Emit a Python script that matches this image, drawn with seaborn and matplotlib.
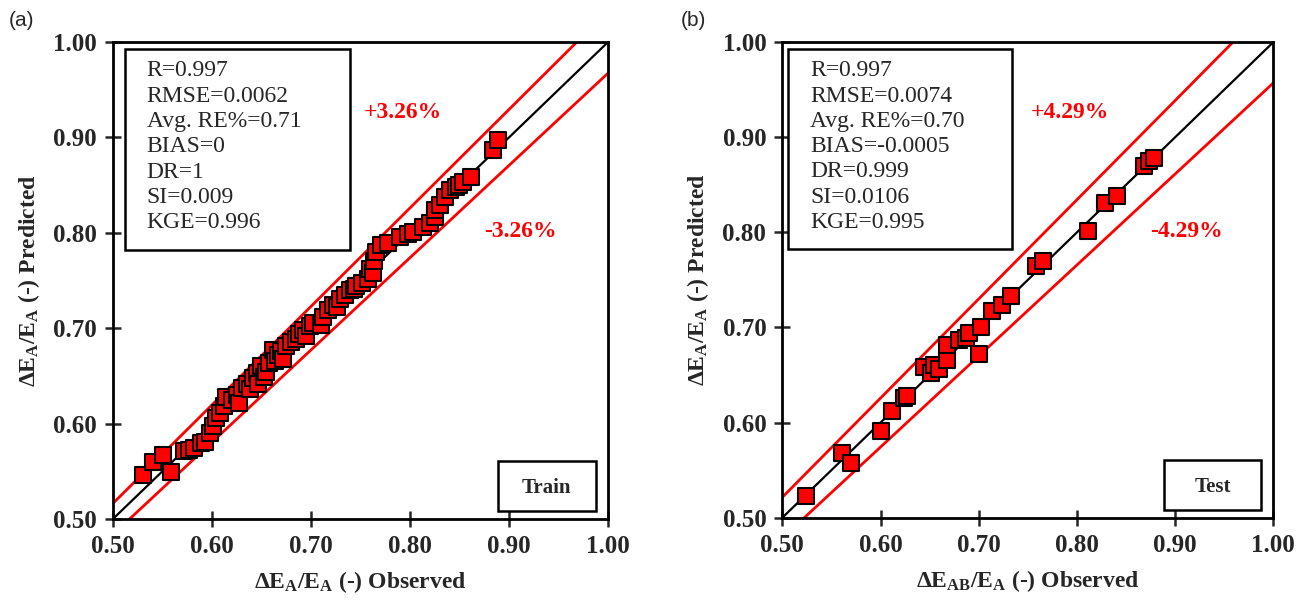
import numpy as np
import pandas as pd
import matplotlib
matplotlib.use("Agg")
import matplotlib.pyplot as plt
import seaborn as sns

# ---- data ----
train_obs = [0.530, 0.540, 0.551, 0.559, 0.572, 0.577, 0.582, 0.589, 0.593, 0.598,
             0.601, 0.604, 0.608, 0.612, 0.614, 0.620, 0.625, 0.627, 0.630, 0.635,
             0.638, 0.641, 0.645, 0.647, 0.650, 0.653, 0.655, 0.658, 0.662, 0.664,
             0.667, 0.670, 0.672, 0.675, 0.680, 0.685, 0.688, 0.692, 0.695, 0.699,
             0.702, 0.710, 0.712, 0.717, 0.722, 0.726, 0.729, 0.734, 0.739, 0.743,
             0.746, 0.752, 0.758, 0.760, 0.763, 0.764, 0.766, 0.771, 0.778, 0.790,
             0.798, 0.803, 0.813, 0.820, 0.825, 0.825, 0.830, 0.835, 0.840, 0.847,
             0.850, 0.854, 0.862, 0.884, 0.889]
train_pred = [0.546, 0.560, 0.567, 0.549, 0.571, 0.572, 0.574, 0.580, 0.581, 0.590,
              0.597, 0.606, 0.611, 0.618, 0.628, 0.625, 0.630, 0.622, 0.637, 0.642,
              0.636, 0.648, 0.653, 0.641, 0.660, 0.649, 0.654, 0.663, 0.677, 0.666,
              0.672, 0.676, 0.668, 0.681, 0.686, 0.689, 0.694, 0.698, 0.692, 0.702,
              0.705, 0.703, 0.712, 0.719, 0.724, 0.722, 0.731, 0.735, 0.740, 0.741,
              0.744, 0.747, 0.752, 0.762, 0.758, 0.771, 0.780, 0.787, 0.789, 0.796,
              0.799, 0.801, 0.806, 0.810, 0.817, 0.824, 0.829, 0.838, 0.845, 0.848,
              0.850, 0.853, 0.859, 0.887, 0.897]

test_obs = [0.524, 0.561, 0.570, 0.600, 0.612, 0.624, 0.627, 0.644, 0.651, 0.654,
            0.660, 0.668, 0.668, 0.680, 0.687, 0.690, 0.702, 0.700, 0.714, 0.724,
            0.733, 0.758, 0.765, 0.811, 0.829, 0.841, 0.868, 0.873, 0.878]
test_pred = [0.523, 0.568, 0.558, 0.591, 0.612, 0.626, 0.628, 0.658, 0.652, 0.661,
             0.656, 0.666, 0.682, 0.687, 0.689, 0.694, 0.700, 0.672, 0.717, 0.724,
             0.733, 0.765, 0.770, 0.801, 0.831, 0.838, 0.870, 0.875, 0.878]

train_stats = ["R=0.997", "RMSE=0.0062", "Avg. RE%=0.71", "BIAS=0",
               "DR=1", "SI=0.009", "KGE=0.996"]
test_stats = ["R=0.997", "RMSE=0.0074", "Avg. RE%=0.70", "BIAS=-0.0005",
              "DR=0.999", "SI=0.0106", "KGE=0.995"]
train_band = 3.26
test_band = 4.29
ticks = [0.50, 0.60, 0.70, 0.80, 0.90, 1.00]

sns.set_style("ticks")
plt.rcParams['font.family'] = ['Liberation Serif', 'DejaVu Serif']
plt.rcParams['mathtext.fontset'] = 'custom'
plt.rcParams['mathtext.rm'] = 'Liberation Serif'
plt.rcParams['mathtext.bf'] = 'Liberation Serif:bold'
plt.rcParams['mathtext.it'] = 'Liberation Serif:italic'

fig = plt.figure(figsize=(13.06, 6.02), dpi=100)
ax1 = fig.add_axes([0.0865, 0.138, 0.379, 0.792])
ax2 = fig.add_axes([0.599, 0.140, 0.376, 0.790])


def draw_panel(ax, obs, pred, band, stats, tag, xlab, box_x, txt_x):
    df = pd.DataFrame({'obs': obs, 'pred': pred})
    xs = np.array([0.5, 1.0])
    ax.plot(xs, xs, color='black', lw=1.6, zorder=1)
    ax.plot(xs, xs * (1 + band / 100), color='#ff0000', lw=2.0, zorder=1)
    ax.plot(xs, xs * (1 - band / 100), color='#ff0000', lw=2.0, zorder=1)
    sns.scatterplot(data=df, x='obs', y='pred', marker='s', s=125,
                    color='#ff0000', edgecolor='black', linewidth=1.5,
                    ax=ax, zorder=3, legend=False)
    ax.set_xlim(0.5, 1.0)
    ax.set_ylim(0.5, 1.0)
    ax.set_xticks(ticks)
    ax.set_yticks(ticks)
    ax.set_xticklabels([f"{t:.2f}" for t in ticks], fontsize=18, fontweight='bold')
    ax.set_yticklabels([f"{t:.2f}" for t in ticks], fontsize=18, fontweight='bold')
    ax.tick_params(direction='inout', length=11, width=1.8, pad=6)
    for sp in ax.spines.values():
        sp.set_linewidth(2.0)
        sp.set_color('black')
    ax.set_xlabel(xlab, fontsize=17, fontweight='bold', labelpad=8)
    ax.set_ylabel(r'$\mathbf{\Delta E_A/E_A}$ (-) Predicted', fontsize=17,
                  fontweight='bold', labelpad=8)

    # stats box
    ax.add_patch(plt.Rectangle((box_x, 0.565), 0.455, 0.42, transform=ax.transAxes,
                               fill=True, facecolor='white', edgecolor='black',
                               lw=1.8, zorder=4))
    ax.text(txt_x, 0.962, "\n".join(stats), transform=ax.transAxes, fontsize=17,
            va='top', ha='left', linespacing=1.27, zorder=5)

    # band labels
    ax.text(0.793, 0.926, f"+{band:.2f}%", color='#ff0000', fontsize=17,
            fontweight='bold', ha='center', va='center')
    ax.text(0.912, 0.801, f"-{band:.2f}%", color='#ff0000', fontsize=17,
            fontweight='bold', ha='center', va='center')

    # train/test tag
    ax.add_patch(plt.Rectangle((0.777, 0.017), 0.198, 0.105, transform=ax.transAxes,
                               fill=True, facecolor='white', edgecolor='black',
                               lw=1.8, zorder=4))
    ax.text(0.876, 0.064, tag, transform=ax.transAxes, fontsize=15,
            fontweight='bold', ha='center', va='center', zorder=5)


draw_panel(ax1, train_obs, train_pred, train_band, train_stats, 'Train',
           r'$\mathbf{\Delta E_A/E_A}$ (-) Observed', 0.024, 0.068)
draw_panel(ax2, test_obs, test_pred, test_band, test_stats, 'Test',
           r'$\mathbf{\Delta E_{AB}/E_A}$ (-) Observed', 0.012, 0.057)

fig.text(0.007, 0.966, "(a)", fontsize=15, ha='left', va='center',
         family=['Liberation Sans', 'DejaVu Sans'])
fig.text(0.521, 0.966, "(b)", fontsize=15, ha='left', va='center',
         family=['Liberation Sans', 'DejaVu Sans'])

fig.savefig("out.png", dpi=100)
